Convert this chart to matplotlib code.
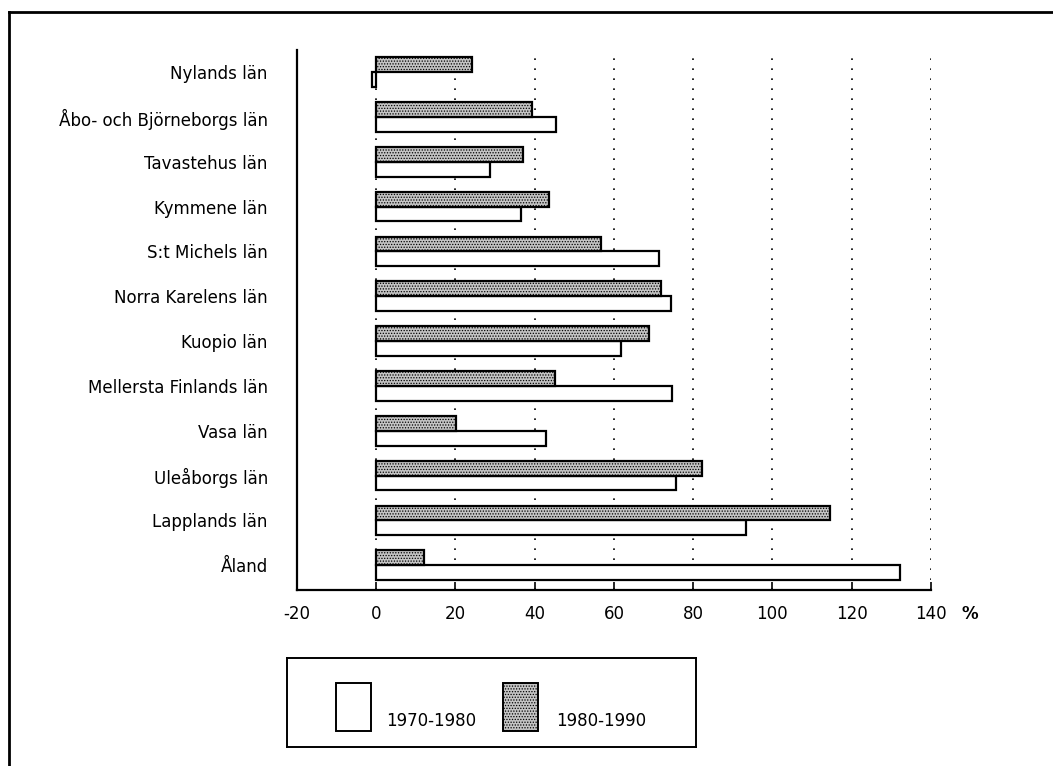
import matplotlib.pyplot as plt
from matplotlib.patches import Rectangle
from matplotlib.lines import Line2D
import numpy as np

plt.rcParams['font.family'] = ['DejaVu Sans']
plt.rcParams['hatch.linewidth'] = 0.6

# data (percent change)
regions = ["Nylands län", "Åbo- och Björneborgs län", "Tavastehus län",
           "Kymmene län", "S:t Michels län", "Norra Karelens län",
           "Kuopio län", "Mellersta Finlands län", "Vasa län",
           "Uleåborgs län", "Lapplands län", "Åland"]
change_70_80 = [-1, 45.3, 28.8, 36.6, 71.5, 74.5, 61.8, 74.6, 42.8, 75.8, 93.4, 132.2]
change_80_90 = [24.3, 39.4, 37.0, 43.5, 56.7, 71.8, 68.9, 45.1, 20.1, 82.3, 114.6, 12.1]
xticks = [-20, 0, 20, 40, 60, 80, 100, 120, 140]
series_labels = ["1970-1980", "1980-1990"]

FS = 12
STIPPLE = "#c4c4c4"

fig = plt.figure(figsize=(10.53, 7.66), dpi=100)
ax = fig.add_axes([0.282, 0.230, 0.602, 0.705])

y = np.arange(len(regions))
h = 0.33
ax.barh(y + h / 2, change_70_80, height=h, color="white",
        edgecolor="black", linewidth=1.6, zorder=3)
ax.barh(y - h / 2, change_80_90, height=h, color=STIPPLE,
        edgecolor="black", linewidth=1.6, hatch="......", zorder=3)

ax.set_yticks(y)
ax.set_yticklabels(regions, fontsize=FS)
ax.tick_params(axis="y", length=0, pad=21)
ax.set_ylim(len(regions) - 0.45, -0.5)

ax.set_xlim(-20, 140)
ax.set_xticks(xticks)
ax.set_xticklabels([str(t) for t in xticks], fontsize=FS)
ax.tick_params(axis="x", direction="in", length=6, width=1.2, pad=11)
for t in xticks[1:]:
    ax.axvline(t, color="black", linestyle=(0, (1, 5)), linewidth=1.2, zorder=1)

for s in ["top", "right"]:
    ax.spines[s].set_visible(False)
ax.spines["left"].set_linewidth(1.6)
ax.spines["bottom"].set_linewidth(1.6)

fig.text(0.921, 0.198, "%", fontsize=FS, fontweight="bold", ha="center", va="center")

# legend box
lax = fig.add_axes([0.273, 0.025, 0.388, 0.116])
lax.set_xlim(0, 408)
lax.set_ylim(89, 0)
lax.set_xticks([])
lax.set_yticks([])
for s in lax.spines.values():
    s.set_linewidth(1.4)
lax.add_patch(Rectangle((48, 25), 35, 48, facecolor="white", edgecolor="black", linewidth=1.4))
lax.add_patch(Rectangle((215, 25), 35, 48, facecolor=STIPPLE, edgecolor="black",
                        linewidth=1.4, hatch="......"))
lax.text(99, 63, series_labels[0], fontsize=FS, va="center")
lax.text(268, 63, series_labels[1], fontsize=FS, va="center")

# page frame
fig.add_artist(Line2D([0.009, 1.0], [0.984, 0.984], color="black", linewidth=2))
fig.add_artist(Line2D([0.009, 0.009], [0.0, 0.984], color="black", linewidth=2))

fig.savefig("out.png", dpi=100)
